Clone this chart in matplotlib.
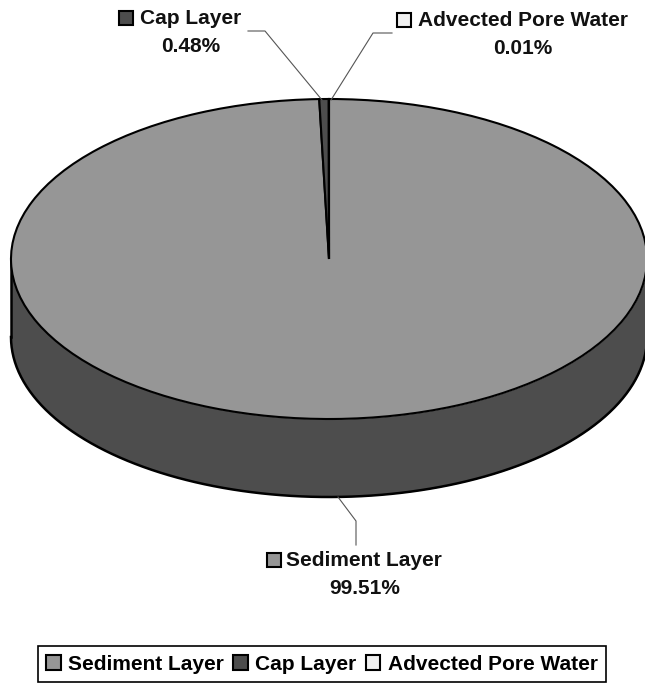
import numpy as np
import matplotlib
matplotlib.use("Agg")
import matplotlib.pyplot as plt
from matplotlib.patches import Rectangle

plt.rcParams["font.family"] = ["Liberation Sans", "DejaVu Sans"]
plt.rcParams["font.weight"] = "bold"

# Mass share per layer
layers = ["Sediment Layer", "Cap Layer", "Advected Pore Water"]
shares = [99.51, 0.48, 0.01]
share_labels = ["99.51%", "0.48%", "0.01%"]
colors = ["#969696", "#4d4d4d", "#f0f0f0"]

W, H = 645, 683
fig = plt.figure(figsize=(W / 100, H / 100), dpi=100, facecolor="white")

# --- pie, squashed into an ellipse ---
cx, cy, rx, ry, depth = 329, 259, 318, 160, 78
ax = fig.add_axes([(cx - rx) / W, 1 - (cy + ry) / H, 2 * rx / W, 2 * ry / H])
wedges, _ = ax.pie(shares, colors=colors, startangle=90, counterclock=False, radius=1,
                   wedgeprops={"edgecolor": "black", "linewidth": 1.5, "clip_on": False})
ax.set_aspect("auto")
ax.set_xlim(-1, 1)
ax.set_ylim(-1, 1)
ax.axis("off")

# side wall below the front half of the rim
t = np.linspace(np.pi, 2 * np.pi, 200)
drop = 2 * depth / (2 * ry)
x = np.cos(t)
ax.fill_between(x, np.sin(t), np.sin(t) - drop, color=colors[1], zorder=0, clip_on=False, lw=0)
ax.plot(x, np.sin(t) - drop, color="black", lw=1.8, zorder=0.5, clip_on=False)
ax.plot([-1, -1], [0, -drop], color="black", lw=1.8, zorder=0.5, clip_on=False)
ax.plot([1, 1], [0, -drop], color="black", lw=1.8, zorder=0.5, clip_on=False)

# --- overlay in pixel coordinates for labels and leader lines ---
ov = fig.add_axes([0, 0, 1, 1], facecolor="none")
ov.set_xlim(0, W)
ov.set_ylim(H, 0)
ov.axis("off")

FS = 15


def swatch(x0, yc, color):
    ov.add_patch(Rectangle((x0, yc - 7), 14, 14, facecolor=color, edgecolor="black", lw=1.5))


def label(i, box_x, text_x, y1, pct_x, y2):
    swatch(box_x, y1, colors[i])
    ov.text(text_x, y1, layers[i], fontsize=FS, ha="left", va="center", color="#111111")
    ov.text(pct_x, y2, share_labels[i], fontsize=FS, ha="center", va="center", color="#111111")


label(0, 267, 286, 560, 365, 588)
label(1, 119, 140, 18, 191, 46)
label(2, 397, 418, 20, 523, 48)

ov.plot([248, 265, 322], [31, 31, 100], color="#555555", lw=0.8)
ov.plot([392, 373, 331], [33, 33, 100], color="#555555", lw=0.8)
ov.plot([338, 356, 356], [497, 521, 545], color="#555555", lw=0.8)

# legend box along the bottom
leg = fig.legend(wedges, layers, ncols=3, loc="center", bbox_to_anchor=(322 / W, 1 - 664 / H),
                 prop={"size": FS, "weight": "bold"}, frameon=True, fancybox=False,
                 edgecolor="black", framealpha=1, handlelength=0.7, handleheight=0.7,
                 handletextpad=0.35, columnspacing=0.45, borderpad=0.4, borderaxespad=0)
leg.get_frame().set_linewidth(1.2)
for h in leg.legend_handles:
    h.set_linewidth(1.5)

fig.savefig("out.png", dpi=100)
